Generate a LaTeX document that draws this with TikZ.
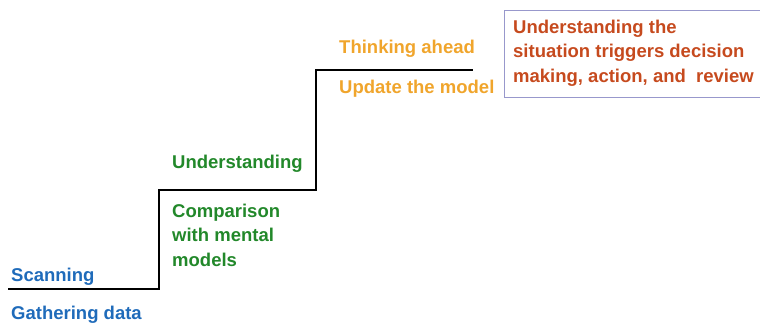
\documentclass[tikz,border=0pt]{standalone}
\usepackage{fontspec}
\setmainfont{Liberation Sans}
\definecolor{scanblue}{HTML}{1F6BBA}
\definecolor{compgreen}{HTML}{22882A}
\definecolor{thinkorange}{HTML}{F0A52C}
\definecolor{triggerred}{HTML}{C64A1E}
\definecolor{framelav}{HTML}{9898CC}
\begin{document}
\begin{tikzpicture}[x=1pt,y=-1pt,
  lbl/.style={anchor=base west,inner sep=0pt,align=left,
    font=\fontsize{18.5}{24.4}\selectfont\bfseries},
  stair/.style={draw=black,line width=1.4pt}]
\useasboundingbox (0,0) rectangle (760,325);
% staircase corners
\coordinate (s0) at (8,289);
\coordinate (s1) at (159,289);
\coordinate (s2) at (159,190);
\coordinate (s3) at (316,190);
\coordinate (s4) at (316,70);
\coordinate (s5) at (473,70);
\draw[stair] (s0) -- (s1) -- (s2) -- (s3) -- (s4) -- (s5);
% step labels (multi-line labels are placed by their last baseline)
\node[lbl,text=scanblue] (scan) at (11,281) {Scanning};
\node[lbl,text=scanblue] (gather) at (11,319) {Gathering data};
\node[lbl,text=compgreen] (under) at (172,168) {Understanding};
\node[lbl,text=compgreen] (comp) at (172,266) {Comparison\\with mental\\models};
\node[lbl,text=thinkorange] (think) at (339,53) {Thinking ahead};
\node[lbl,text=thinkorange] (update) at (339,93) {Update the model};
% outcome box
\node[lbl,text=triggerred] (trig) at (513,82) {Understanding the\\situation triggers decision\\making, action, and~ review};
\draw[framelav,line width=1pt] (765,10) -- (504,10) -- (504,97) -- (765,97);
\end{tikzpicture}
\end{document}
